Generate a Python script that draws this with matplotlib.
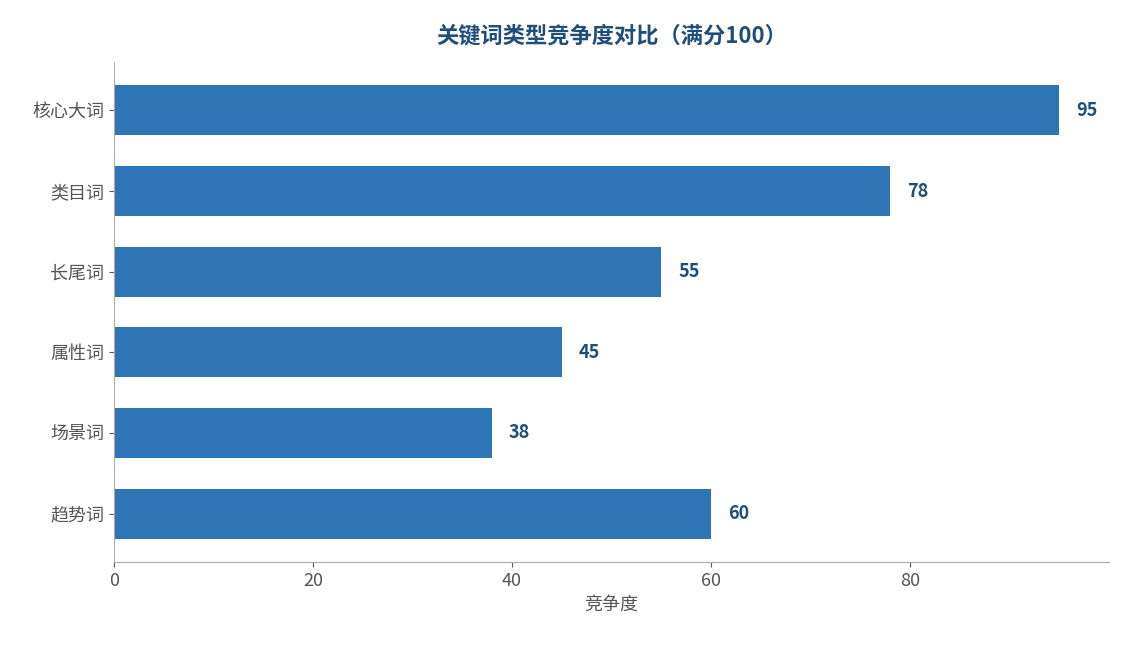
import matplotlib
matplotlib.use("Agg")
import matplotlib.pyplot as plt

plt.rcParams['font.family'] = ['Noto Sans CJK SC', 'DejaVu Sans']

categories = ["核心大词", "类目词", "长尾词", "属性词", "场景词", "趋势词"]
values = [95, 78, 55, 45, 38, 60]

fig = plt.figure(figsize=(11.24, 6.45), dpi=100)
ax = fig.add_axes([114/1124, 1-562/645, (1109-114)/1124, (562-62)/645])
y = list(range(len(categories)))
ax.barh(y, values, height=0.62, color="#2E75B6")
ax.set_ylim(len(categories)-0.4, -0.6)
ax.set_xlim(0, 100)
ax.set_yticks(y)
ax.set_yticklabels(categories)
ax.set_xticks([0, 20, 40, 60, 80])
ax.tick_params(colors="#555555", labelsize=13)
for s in ["top", "right"]:
    ax.spines[s].set_visible(False)
for s in ["left", "bottom"]:
    ax.spines[s].set_color("#AAAAAA")
for yi, v in zip(y, values):
    ax.text(v + 1.7, yi, str(v), va="center", ha="left", fontsize=13,
            fontweight="bold", color="#1F4E79")
ax.set_xlabel("竞争度", fontsize=13, color="#555555")
ax.set_title("关键词类型竞争度对比（满分100）", fontsize=16, fontweight="bold",
             color="#1F4E79", pad=14)
fig.savefig("out.png", dpi=100)
